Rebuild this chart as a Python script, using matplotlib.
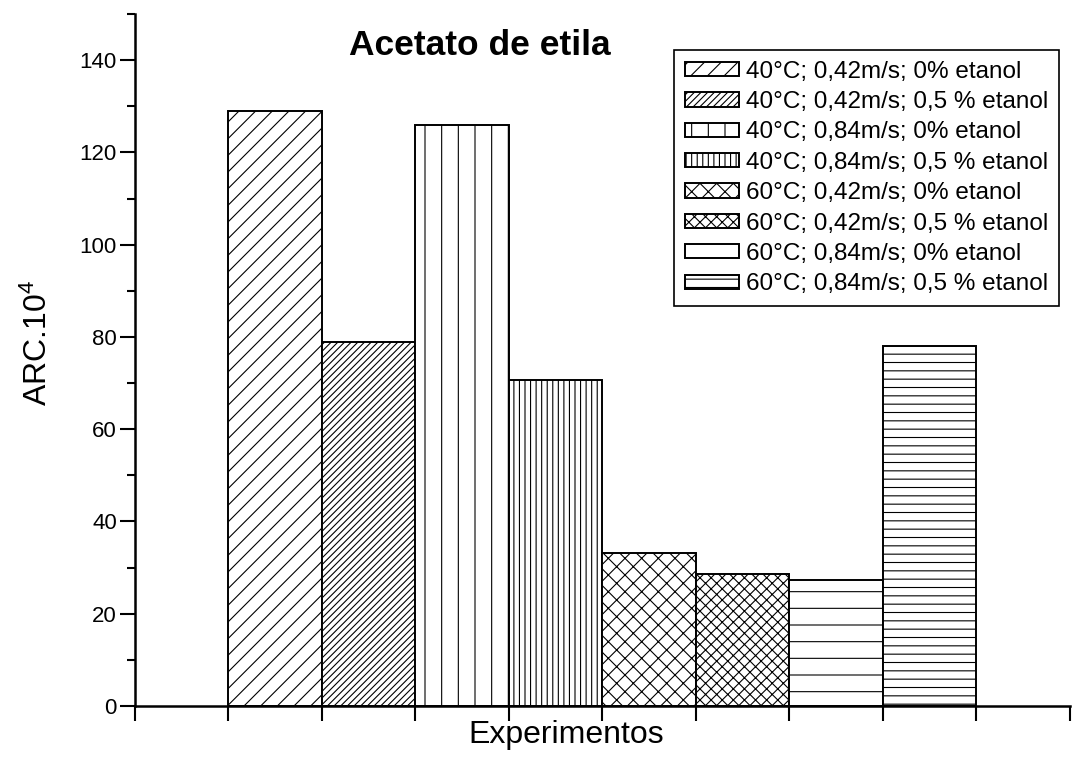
import numpy as np
import matplotlib
matplotlib.use("Agg")
import matplotlib.pyplot as plt

# ---------------------------------------------------------------
# Dados: ARC.10^4 para cada condição experimental
# ---------------------------------------------------------------
condicoes = [
    "40°C; 0,42m/s; 0% etanol",
    "40°C; 0,42m/s; 0,5 % etanol",
    "40°C; 0,84m/s; 0% etanol",
    "40°C; 0,84m/s; 0,5 % etanol",
    "60°C; 0,42m/s; 0% etanol",
    "60°C; 0,42m/s; 0,5 % etanol",
    "60°C; 0,84m/s; 0% etanol",
    "60°C; 0,84m/s; 0,5 % etanol",
]
arc = [129.0, 78.8, 125.9, 70.7, 33.1, 28.7, 27.3, 78.1]
hachuras = ["//", "/////", "|", "|||", "xx", "xxx", "-", "--"]

y_ticks = [0, 20, 40, 60, 80, 100, 120, 140]
x_ticks = list(range(11))

plt.rcParams['font.family'] = ['Liberation Sans', 'DejaVu Sans']
plt.rcParams['mathtext.default'] = 'regular'
plt.rcParams['hatch.linewidth'] = 0.8
plt.rcParams['axes.linewidth'] = 1.8

fig = plt.figure(figsize=(10.73, 7.76), dpi=100)
ax = fig.add_axes([0.1258, 0.0902, 0.8714, 0.8918])

posicoes = np.arange(len(arc)) + 1.5
for pos, val, h, lab in zip(posicoes, arc, hachuras, condicoes):
    ax.bar(pos, val, width=1.0, facecolor='white', edgecolor='black',
           linewidth=1.4, hatch=h, label=lab)

ax.set_xlim(0, 10)
ax.set_ylim(0, 150)
ax.set_xticks(x_ticks)
ax.set_xticklabels([])
ax.set_yticks(y_ticks)
ax.set_yticks(np.arange(10, 151, 20), minor=True)
ax.tick_params(axis='both', which='major', direction='out', length=11,
               width=1.5, labelsize=16, pad=2)
ax.tick_params(axis='y', which='minor', direction='out', length=6, width=1.5)

for s in ['top', 'right']:
    ax.spines[s].set_visible(False)

ax.set_ylabel('ARC.10$^4$', fontsize=23)
ax.yaxis.set_label_coords(-0.087, 0.525)
ax.set_xlabel('Experimentos', fontsize=23)
ax.xaxis.set_label_coords(0.461, -0.02)

ax.text(3.69, 141, 'Acetato de etila', fontsize=25.5, fontweight='bold',
        ha='center', va='baseline')

leg = ax.legend(loc='upper right', bbox_to_anchor=(0.987, 0.936),
                bbox_transform=fig.transFigure, borderaxespad=0,
                fontsize=17.5, handlelength=2.22, handleheight=0.53,
                handletextpad=0.3, labelspacing=0.345, borderpad=0.45,
                fancybox=False, framealpha=1, edgecolor='black')
leg.get_frame().set_linewidth(1.2)

plt.savefig('out.png', dpi=100)
